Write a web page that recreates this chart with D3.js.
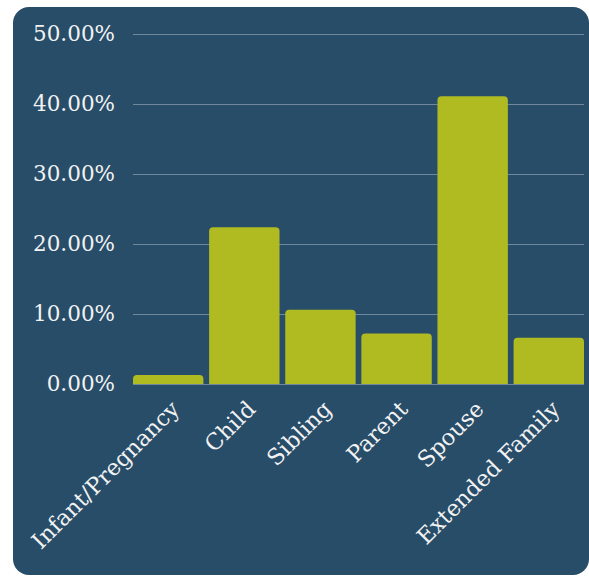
<!DOCTYPE html>
<html>
<head>
    <script src="https://d3js.org/d3.v7.min.js" charset="utf-8"></script>
    <style>
        body { margin: 0; background: #ffffff; }
        text { font-family: "DejaVu Serif", serif; fill: #f2f2f2; }
    </style>
</head>
<body>
    <div id="viz"></div>

    <script type="text/javascript">

    // data
    var categories = ["Infant/Pregnancy", "Child", "Sibling", "Parent", "Spouse", "Extended Family"];
    var shares = [1.3, 22.4, 10.6, 7.2, 41.1, 6.6];
    var yTicks = [0, 10, 20, 30, 40, 50];

    var svg = d3.select("#viz")
        .append("svg")
        .attr("width", 589)
        .attr("height", 577);

    // panel
    svg.append("rect")
        .attr("x", 13)
        .attr("y", 7)
        .attr("width", 576)
        .attr("height", 568)
        .attr("rx", 16)
        .style("fill", "#284d69");

    var x = d3.scaleBand()
        .domain(categories)
        .range([133, 584])
        .paddingInner(0.075)
        .paddingOuter(0);

    var y = d3.scaleLinear()
        .domain([0, 50])
        .range([384, 34]);

    // grid
    svg.append("g").selectAll("line")
        .data(yTicks)
        .enter().append("line")
        .attr("x1", 133)
        .attr("x2", 584)
        .attr("y1", function(d){ return Math.round(y(d)) + 0.5; })
        .attr("y2", function(d){ return Math.round(y(d)) + 0.5; })
        .style("stroke", "#6f889c")
        .style("stroke-width", 1);

    var yAxis = svg.append("g")
        .attr("transform", "translate(133,0)")
        .call(d3.axisLeft(y).tickValues(yTicks).tickSize(0).tickPadding(18)
            .tickFormat(function(d){ return d.toFixed(2) + "%"; }));
    yAxis.select(".domain").remove();
    yAxis.selectAll("text")
        .style("font-size", "21.5px")
        .style("fill", "#f2f2f2");

    // bars with rounded top corners
    var r = 4;
    function barPath(d, i){
        var x0 = x(categories[i]), w = x.bandwidth();
        var y0 = y(d), y1 = y(0);
        var rr = Math.min(r, (y1 - y0));
        return "M" + x0 + "," + y1
            + "V" + (y0 + rr)
            + "Q" + x0 + "," + y0 + " " + (x0 + rr) + "," + y0
            + "H" + (x0 + w - rr)
            + "Q" + (x0 + w) + "," + y0 + " " + (x0 + w) + "," + (y0 + rr)
            + "V" + y1 + "Z";
    }
    svg.append("g").selectAll("path")
        .data(shares)
        .enter().append("path")
        .attr("d", barPath)
        .style("fill", "#afbb20");

    // rotated category labels
    svg.append("g").selectAll("text")
        .data(categories)
        .enter().append("text")
        .attr("transform", function(d){
            var cx = x(d) + x.bandwidth() / 2 + 7;
            return "translate(" + cx + "," + 405 + ") rotate(-45)";
        })
        .attr("text-anchor", "end")
        .attr("dy", "0.35em")
        .style("font-size", "22.5px")
        .text(function(d){ return d; });

    </script>
</body>
</html>
